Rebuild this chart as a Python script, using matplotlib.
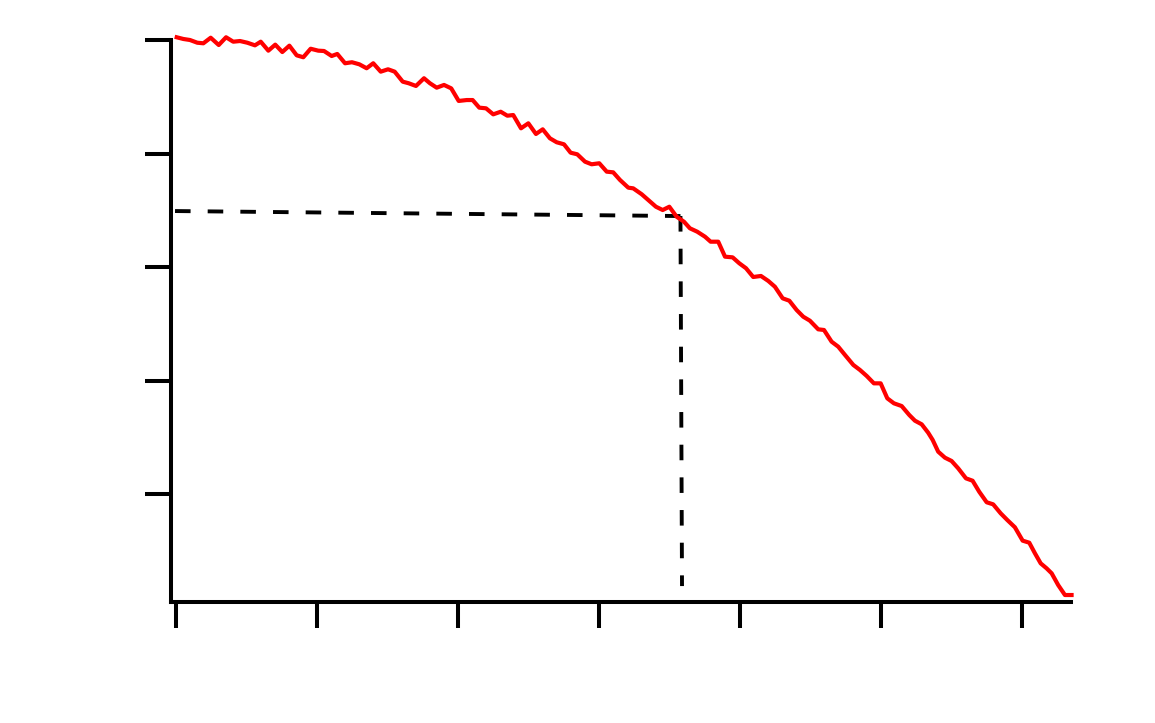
import matplotlib
matplotlib.use("Agg")
import matplotlib.pyplot as plt

# Curve values
x_vals = [0.005, 0.052, 0.099, 0.151, 0.194, 0.246, 0.303, 0.355, 0.406, 0.454,
          0.506, 0.560, 0.601, 0.655, 0.704, 0.754, 0.804, 0.856, 0.903, 0.955,
          1.009, 1.050, 1.104, 1.144, 1.199, 1.248, 1.300, 1.352, 1.399, 1.452,
          1.504, 1.551, 1.608, 1.650, 1.702, 1.759, 1.801, 1.849, 1.901, 1.952,
          2.005, 2.062, 2.104, 2.151, 2.199, 2.250, 2.303, 2.350, 2.392, 2.447,
          2.499, 2.553, 2.601, 2.652, 2.700, 2.752, 2.799, 2.846, 2.901, 2.948,
          3.002, 3.055, 3.101, 3.149, 3.208, 3.243, 3.303, 3.350, 3.404, 3.452,
          3.499, 3.551, 3.603, 3.645, 3.697, 3.752, 3.792, 3.846, 3.894, 3.948,
          3.995, 4.043, 4.094, 4.149, 4.201, 4.248, 4.303, 4.350, 4.402, 4.449,
          4.496, 4.555, 4.596, 4.650, 4.697, 4.745, 4.804, 4.851, 4.899, 4.950,
          4.998, 5.045, 5.092, 5.147, 5.201, 5.241, 5.289, 5.335, 5.367, 5.406,
          5.454, 5.501, 5.548, 5.603, 5.650, 5.697, 5.750, 5.796, 5.849, 5.896,
          5.950, 6.005, 6.052, 6.092, 6.133, 6.175, 6.211, 6.257, 6.305, 6.352]
y_vals = [5.024, 5.009, 5.000, 4.976, 4.971, 5.020, 4.956, 5.024, 4.985, 4.991,
          4.976, 4.953, 4.985, 4.906, 4.959, 4.894, 4.950, 4.865, 4.848, 4.923,
          4.906, 4.903, 4.859, 4.877, 4.795, 4.804, 4.786, 4.751, 4.795, 4.721,
          4.742, 4.721, 4.633, 4.619, 4.595, 4.663, 4.619, 4.580, 4.604, 4.574,
          4.463, 4.471, 4.471, 4.404, 4.398, 4.345, 4.368, 4.333, 4.339, 4.222,
          4.266, 4.172, 4.213, 4.134, 4.099, 4.081, 4.007, 3.993, 3.928, 3.905,
          3.914, 3.840, 3.834, 3.767, 3.699, 3.693, 3.641, 3.590, 3.531, 3.502,
          3.531, 3.443, 3.399, 3.341, 3.311, 3.267, 3.223, 3.223, 3.091, 3.085,
          3.033, 2.989, 2.912, 2.921, 2.877, 2.826, 2.724, 2.703, 2.621, 2.562,
          2.527, 2.451, 2.445, 2.342, 2.298, 2.225, 2.137, 2.093, 2.040, 1.975,
          1.975, 1.843, 1.799, 1.775, 1.696, 1.646, 1.614, 1.540, 1.476, 1.373,
          1.320, 1.291, 1.226, 1.138, 1.117, 1.020, 0.927, 0.909, 0.830, 0.771,
          0.707, 0.589, 0.571, 0.478, 0.389, 0.345, 0.301, 0.198, 0.110, 0.110]

# Reference (dashed) guide lines
h_guide_x = [-0.007, 3.578]
h_guide_y = [3.493, 3.449]
v_guide_x = [3.578, 3.589]
v_guide_y = [3.449, 0.189]

x_ticks = [0, 1, 2, 3, 4, 5, 6]
y_ticks = [1, 2, 3, 4, 5]

fig = plt.figure(figsize=(11.55, 7.23), dpi=100)
ax = fig.add_axes([171 / 1155, (723 - 602) / 723, (1071 - 171) / 1155, (602 - 40) / 723])

ax.plot(x_vals, y_vals, color="#ff0000", lw=3.0, clip_on=False, zorder=3)
ax.plot(h_guide_x, h_guide_y, color="black", lw=2.8, linestyle=(0, (4.0, 4.4)),
        dash_capstyle="butt", zorder=2)
ax.plot(v_guide_x, v_guide_y, color="black", lw=2.8, linestyle=(0, (4.0, 4.4)),
        dash_capstyle="butt", zorder=2)

ax.set_xlim(-0.0355, 6.348)
ax.set_ylim(0.0485, 5.0)

ax.set_xticks(x_ticks)
ax.set_yticks(y_ticks)
ax.tick_params(direction="out", length=19, width=2.9, color="black",
               labelbottom=False, labelleft=False)

for side in ("top", "right"):
    ax.spines[side].set_visible(False)
for side in ("left", "bottom"):
    ax.spines[side].set_linewidth(2.9)
    ax.spines[side].set_color("black")

fig.savefig("out.png", dpi=100)
